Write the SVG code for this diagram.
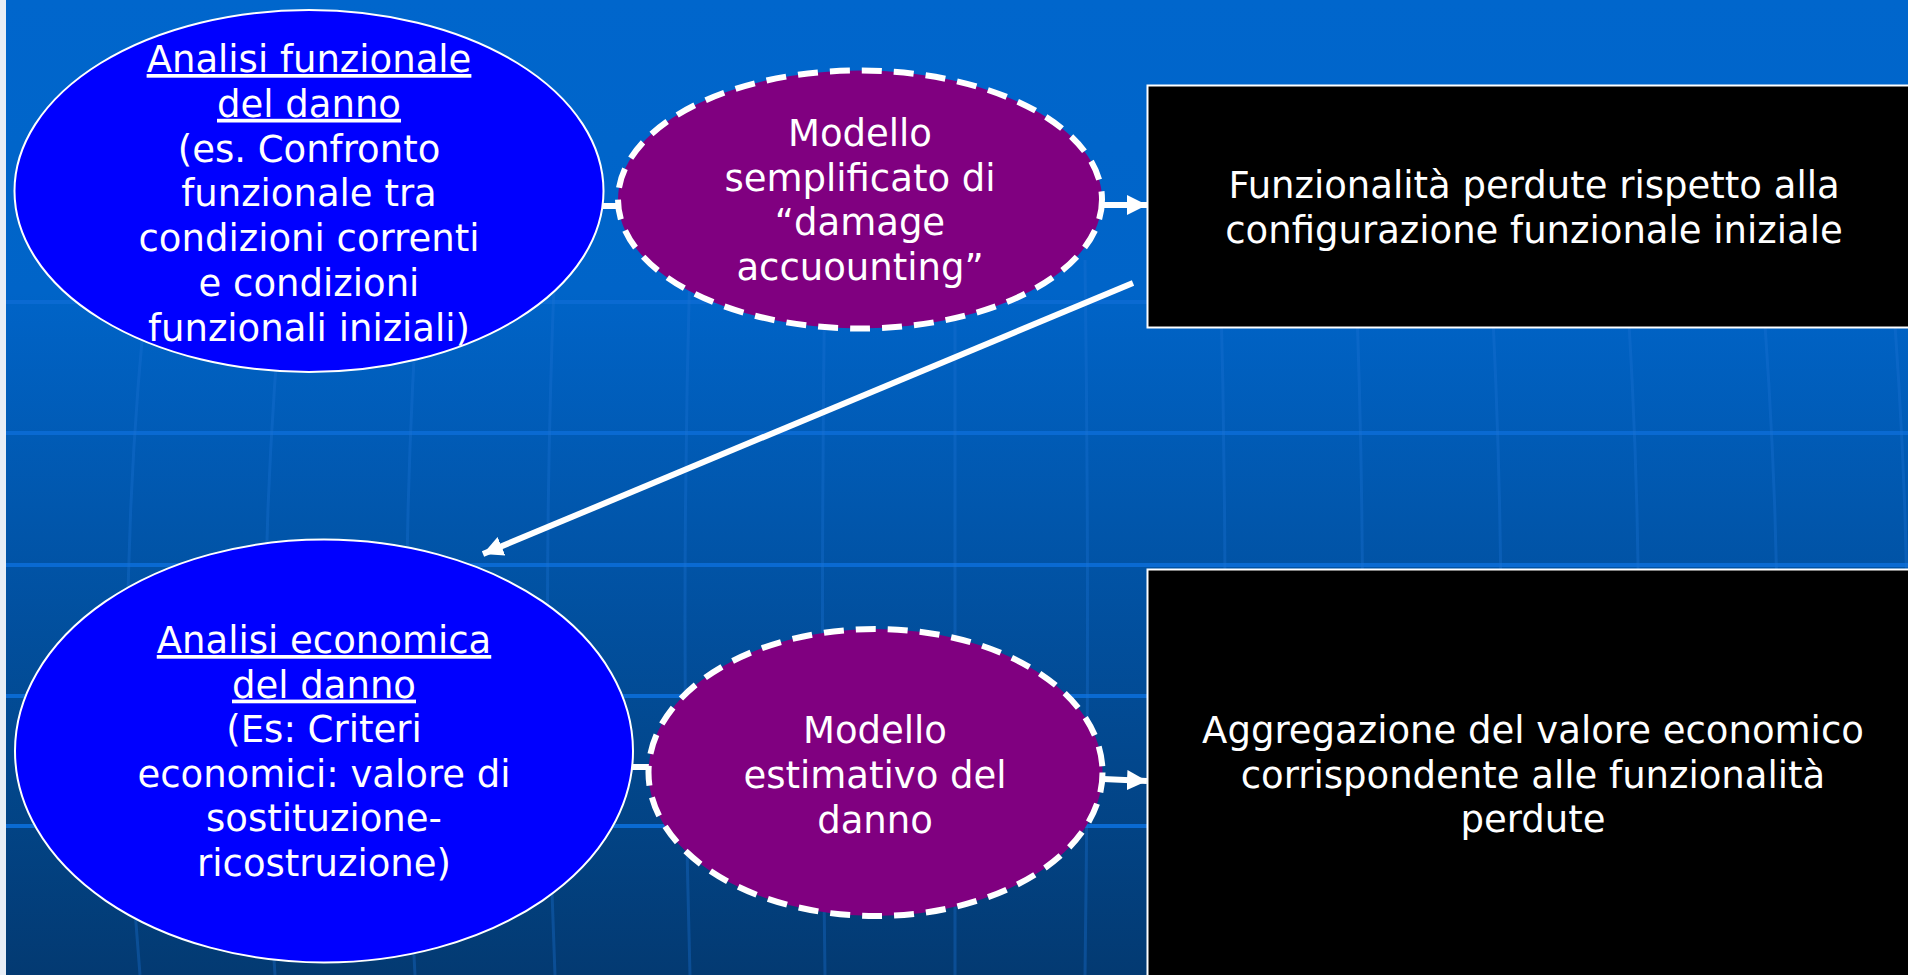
<svg xmlns="http://www.w3.org/2000/svg" width="1908" height="975" viewBox="0 0 1908 975">
<defs>
<linearGradient id="bg" x1="0" y1="0" x2="0" y2="1">
<stop offset="0" stop-color="#0066CC"/>
<stop offset="0.3" stop-color="#0064C8"/>
<stop offset="1" stop-color="#033A72"/>
</linearGradient>
<marker id="ah" markerUnits="userSpaceOnUse" markerWidth="22" markerHeight="22" refX="20" refY="10" orient="auto" viewBox="0 0 22 20">
<path d="M0,0 L20,10 L0,20 z" fill="#FFFFFF"/>
</marker>
<style>
.t{font-family:"DejaVu Sans","Verdana",sans-serif;font-size:37px;fill:#FFFFFF;text-anchor:middle}
.u{text-decoration:underline}
.blue{fill:#0000FF;stroke:#FFFFFF;stroke-width:2}
.purple{fill:#800080;stroke:#FFFFFF;stroke-width:6;stroke-dasharray:20 12}
.box{fill:#000000;stroke:#FFFFFF;stroke-width:2}
.grid{stroke:#0A6AD2;stroke-width:4;fill:none}
.lon{stroke:#1E74D4;stroke-width:3;fill:none;opacity:0.35}
.conn{stroke:#FFFFFF;stroke-width:6;fill:none}
</style>
</defs>
<rect x="0" y="0" width="1908" height="975" fill="url(#bg)"/>
<rect x="0" y="0" width="6" height="975" fill="#E8EEF6"/>
<g id="background-grid">
<line class="grid" x1="6" y1="302" x2="1908" y2="302"/>
<line class="grid" x1="6" y1="433" x2="1908" y2="433"/>
<line class="grid" x1="6" y1="565" x2="1908" y2="565"/>
<line class="grid" x1="6" y1="696" x2="1908" y2="696"/>
<line class="grid" x1="6" y1="826" x2="1908" y2="826"/>
<path class="lon" d="M150,260 Q110,620 140,975"/>
<path class="lon" d="M285,260 Q250,620 275,975"/>
<path class="lon" d="M420,260 Q395,620 415,975"/>
<path class="lon" d="M555,260 Q540,620 555,975"/>
<path class="lon" d="M690,260 Q680,620 690,975"/>
<path class="lon" d="M825,260 Q820,620 825,975"/>
<path class="lon" d="M955,260 L955,975"/>
<path class="lon" d="M1085,260 Q1090,620 1085,975"/>
<path class="lon" d="M1220,260 Q1230,620 1220,975"/>
<path class="lon" d="M1355,260 Q1370,620 1355,975"/>
<path class="lon" d="M1490,260 Q1510,620 1495,975"/>
<path class="lon" d="M1625,260 Q1650,620 1630,975"/>
<path class="lon" d="M1760,260 Q1790,620 1770,975"/>
<path class="lon" d="M1890,260 Q1920,620 1900,975"/>
</g>
<g id="connectors">
<line class="conn" x1="600" y1="206" x2="622" y2="206"/>
<line class="conn" x1="630" y1="767" x2="652" y2="767"/>
</g>
<g id="node-analisi-funzionale">
<ellipse class="blue" cx="309" cy="191" rx="294.5" ry="181"/>
<text class="t"><tspan class="u" x="309" y="72">Analisi funzionale</tspan><tspan class="u" x="309" y="116.8">del danno</tspan><tspan x="309" y="161.6">(es. Confronto</tspan><tspan x="309" y="206.4">funzionale tra</tspan><tspan x="309" y="251.2">condizioni correnti</tspan><tspan x="309" y="296">e condizioni</tspan><tspan x="309" y="340.8">funzionali iniziali)</tspan></text>
</g>
<g id="node-modello-semplificato">
<ellipse class="purple" cx="860" cy="199.5" rx="242" ry="129"/>
<text class="t"><tspan x="860" y="146">Modello</tspan><tspan x="860" y="190.7">semplificato di</tspan><tspan x="860" y="235">“damage</tspan><tspan x="860" y="280">accuounting”</tspan></text>
</g>
<g id="node-funzionalita-perdute">
<rect class="box" x="1147.5" y="85.5" width="770" height="242"/>
<text class="t"><tspan x="1534" y="198">Funzionalità perdute rispetto alla</tspan><tspan x="1534" y="243">configurazione funzionale iniziale</tspan></text>
</g>
<g id="node-analisi-economica">
<ellipse class="blue" cx="324" cy="751" rx="309" ry="211.5"/>
<text class="t"><tspan class="u" x="324" y="653">Analisi economica</tspan><tspan class="u" x="324" y="697.6">del danno</tspan><tspan x="324" y="742.2">(Es: Criteri</tspan><tspan x="324" y="786.8">economici: valore di</tspan><tspan x="324" y="831.4">sostituzione-</tspan><tspan x="324" y="876">ricostruzione)</tspan></text>
</g>
<g id="node-modello-estimativo">
<ellipse class="purple" cx="875.5" cy="772.5" rx="227" ry="143.5"/>
<text class="t"><tspan x="875" y="743">Modello</tspan><tspan x="875" y="788">estimativo del</tspan><tspan x="875" y="833">danno</tspan></text>
</g>
<g id="node-aggregazione">
<rect class="box" x="1147.5" y="569.5" width="770" height="420"/>
<text class="t"><tspan x="1533" y="743">Aggregazione del valore economico</tspan><tspan x="1533" y="788">corrispondente alle funzionalità</tspan><tspan x="1533" y="832">perdute</tspan></text>
</g>
<g id="arrows">
<line class="conn" x1="1103" y1="205" x2="1147" y2="205" marker-end="url(#ah)"/>
<line class="conn" x1="1133" y1="283" x2="483" y2="554" stroke-width="5" marker-end="url(#ah)"/>
<line class="conn" x1="1103" y1="779" x2="1147" y2="781" marker-end="url(#ah)"/>
</g>
</svg>
